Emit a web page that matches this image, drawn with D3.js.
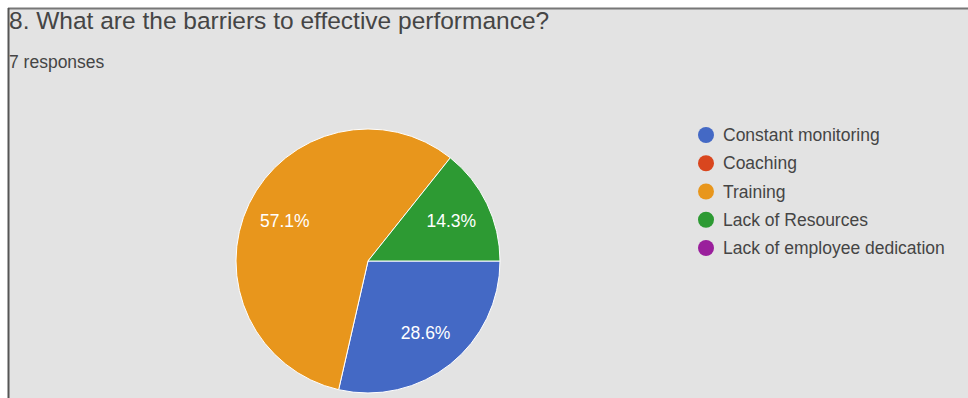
<!DOCTYPE html>
<html>
<head>
<meta charset="utf-8">
<script src="https://cdn.jsdelivr.net/npm/d3@7"></script>
<style>
  html, body { margin: 0; padding: 0; background: #fff; }
  svg { display: block; font-family: "Liberation Sans", Arial, sans-serif; }
</style>
</head>
<body>
<svg id="chart" width="968" height="398"></svg>
<script>
// Survey answers and response counts
const categories = ["Constant monitoring", "Coaching", "Training", "Lack of Resources", "Lack of employee dedication"];
const counts = [2, 0, 4, 1, 0];
const colors = ["#4469c5", "#d9461e", "#e8961c", "#2d9a33", "#9a1f9c"];
const title = "8. What are the barriers to effective performance?";
const subtitle = "7 responses";

const svg = d3.select("#chart");
const W = 968, H = 398;

// Card background with its top and left edge lines
svg.append("rect").attr("x", 9).attr("y", 9).attr("width", W - 9).attr("height", H - 9).attr("fill", "#e3e3e3");
svg.append("line").attr("x1", 8).attr("x2", W).attr("y1", 8.5).attr("y2", 8.5).attr("stroke", "#777").attr("stroke-width", 2);
svg.append("line").attr("x1", 8.5).attr("x2", 8.5).attr("y1", 8).attr("y2", H).attr("stroke", "#555").attr("stroke-width", 2);

svg.append("text").attr("x", 9).attr("y", 29).attr("font-size", 24.5).attr("fill", "#454545").text(title);
svg.append("text").attr("x", 9).attr("y", 68).attr("font-size", 17.5).attr("fill", "#454545").text(subtitle);

// Pie
const cx = 368, cy = 261, r = 132;
const total = d3.sum(counts);
const data = categories.map((c, i) => ({ name: c, value: counts[i], color: colors[i] }));
const pie = d3.pie().sort(null).value(d => d.value)
  .startAngle(Math.PI / 2).endAngle(Math.PI / 2 + 2 * Math.PI);
const arcs = pie(data).filter(a => a.data.value > 0);
const arc = d3.arc().innerRadius(0).outerRadius(r);
const labelArc = d3.arc().innerRadius(r * 0.7).outerRadius(r * 0.7);

const g = svg.append("g").attr("transform", `translate(${cx},${cy})`);
g.selectAll("path").data(arcs).join("path")
  .attr("d", arc)
  .attr("fill", d => d.data.color)
  .attr("stroke", "#fff").attr("stroke-width", 1);

g.selectAll("text.pct").data(arcs).join("text")
  .attr("class", "pct")
  .attr("transform", d => `translate(${labelArc.centroid(d)})`)
  .attr("text-anchor", "middle").attr("dy", "0.35em")
  .attr("font-size", 17.5).attr("fill", "#fff")
  .text(d => (d.data.value / total * 100).toFixed(1) + "%");

// Legend
const ly = d3.scalePoint().domain(categories).range([135, 248]);
const lg = svg.append("g");
lg.selectAll("circle").data(data).join("circle")
  .attr("cx", 706).attr("cy", d => ly(d.name)).attr("r", 8)
  .attr("fill", d => d.color);
lg.selectAll("text").data(data).join("text")
  .attr("x", 723).attr("y", d => ly(d.name)).attr("dy", "0.35em")
  .attr("font-size", 17.5).attr("fill", "#454545")
  .text(d => d.name);
</script>
</body>
</html>
